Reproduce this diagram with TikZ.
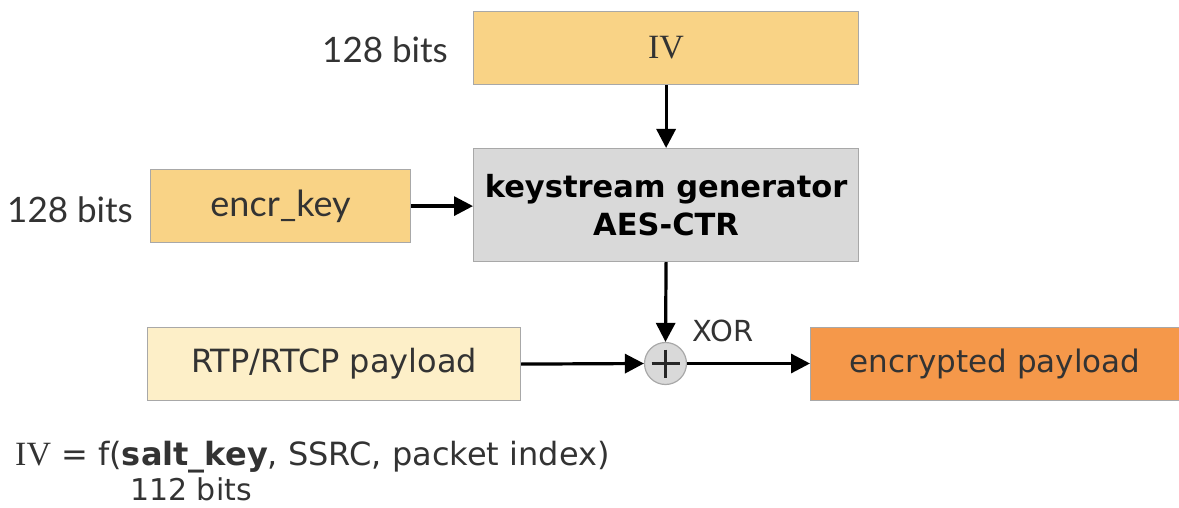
\documentclass[tikz,border=0pt]{standalone}
\usepackage{fontspec}
\setmainfont{DejaVu Sans}
\newfontfamily\latofont{Lato}
\newfontfamily\serifivfont{Liberation Serif}
\usetikzlibrary{arrows.meta}
\definecolor{ivfill}{HTML}{F9D386}
\definecolor{genfill}{HTML}{D9D9D9}
\definecolor{rtpfill}{HTML}{FDEFC8}
\definecolor{encfill}{HTML}{F5984A}
\definecolor{boxline}{HTML}{A8A8A8}
\definecolor{txt}{HTML}{333333}
\tikzset{
  blockbox/.style={draw=boxline, line width=1.2pt, inner sep=0pt, anchor=north west, text=txt},
  flow/.style={line width=3.2pt, -{Triangle[length=19pt,width=19pt]}},
  lbl/.style={text=txt, inner sep=0pt}
}
\begin{document}
\begin{tikzpicture}[x=1pt,y=-1pt]
\useasboundingbox (0,0) rectangle (1179,508);
\node[blockbox, fill=ivfill, minimum width=385pt, minimum height=73pt, font=\serifivfont\fontsize{34}{36}\selectfont] (iv) at (473,11) {IV};
\node[blockbox, fill=genfill, minimum width=385pt, minimum height=113pt, text=black, font=\bfseries\fontsize{30.5}{38}\selectfont, align=center] (gen) at (473,148) {keystream generator\\AES-CTR};
\node[blockbox, fill=ivfill, minimum width=260pt, minimum height=73pt, font=\latofont\fontsize{36}{38}\selectfont] (key) at (150,169) {encr\_key};
\node[blockbox, fill=rtpfill, minimum width=373pt, minimum height=73pt, font=\fontsize{32}{36}\selectfont] (rtp) at (147,327) {RTP/RTCP payload};
\node[blockbox, fill=encfill, minimum width=369pt, minimum height=73pt, font=\fontsize{31}{36}\selectfont] (enc) at (810,327) {encrypted payload};
\node[circle, draw=boxline, line width=1.2pt, fill=genfill, minimum size=42pt, inner sep=0pt] (xor) at (665.5,363.5) {};
\draw[line width=2.2pt, black!85] (xor.center) ++(-14,0) -- ++(28,0) (xor.center) ++(0,-14) -- ++(0,28);
\node[lbl, font=\fontsize{29}{32}\selectfont, anchor=west] (xorlbl) at (692,331) {XOR};
\node[lbl, font=\latofont\fontsize{35}{38}\selectfont, anchor=east] (b1) at (448,50) {128 bits};
\node[lbl, font=\latofont\fontsize{35}{38}\selectfont, anchor=east] (b2) at (133,210) {128 bits};
\node[lbl, font=\fontsize{32}{36}\selectfont, anchor=west] (formula) at (15,457) {{\serifivfont\fontsize{34}{36}\selectfont IV} = f(\textbf{salt\_key}, SSRC, packet index)};
\node[lbl, font=\fontsize{30}{34}\selectfont, anchor=west] (bits112) at (130,489) {112 bits};
\draw[flow] (iv.south) -- (gen.north);
\draw[flow] (key.east) -- (gen.west |- key.east);
\draw[flow] (gen.south) -- (xor.north);
\draw[flow] (rtp.east) -- (xor.west);
\draw[flow] (xor.east) -- (enc.west |- xor.east);
\end{tikzpicture}
\end{document}
